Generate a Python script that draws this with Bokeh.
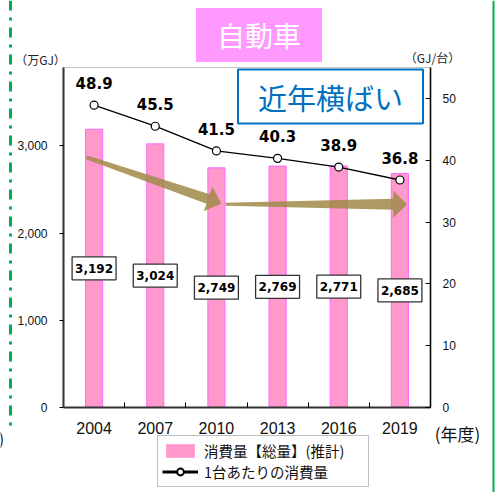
import math
from bokeh.plotting import figure
from bokeh.models import (Range1d, LinearAxis, FixedTicker, NumeralTickFormatter, Label,
                          BoxAnnotation, Arrow, Legend, LegendItem)
from bokeh.embed import file_html
from bokeh.resources import INLINE
from bokeh.core.properties import value

# ---------------- data ----------------
years = ["2004", "2007", "2010", "2013", "2016", "2019"]
total = [3192, 3024, 2749, 2769, 2771, 2685]              # 万GJ
total_labels = ["3,192", "3,024", "2,749", "2,769", "2,771", "2,685"]
per_unit = [48.9, 45.5, 41.5, 40.3, 38.9, 36.8]           # GJ/台
per_unit_labels = ["48.9", "45.5", "41.5", "40.3", "38.9", "36.8"]
left_ticks = [0, 1000, 2000, 3000]
right_ticks = [0, 10, 20, 30, 40, 50]
legend_labels = ["消費量【総量】(推計)", "1台あたりの消費量"]

idx = list(range(len(years)))
half_total = [v / 2 for v in total]

# ---------------- layout ----------------
W, H = 498, 492
# plot area (inside the canvas)
PL, PR, PT, PB = 63, 430, 67, 407
XA0, XA1 = -0.5, len(years) - 0.5     # category axis extent
YA0, YA1 = 0, 3900                    # left axis extent
YB0, YB1 = 0, 55                      # right axis extent

JP = "Noto Sans CJK JP"
NUM = "Liberation Sans"
BOLD = "DejaVu Sans"
BAR_FILL = "#FF99CC"
NAN = float("nan")

SX = (XA1 - XA0) / (PR - PL)          # data per px
SY = (YA1 - YA0) / (PB - PT)
SY2 = (YB1 - YB0) / (PB - PT)


def px2d(px, py):
    return XA0 + (px - PL) * SX, YA0 + (PB - py) * SY


def d2px(x, y):
    return PL + (x - XA0) / SX, PB - (y - YA0) / SY


# the frame spans the whole canvas; axes are pinned to the plot-area edges
x_lo, y_hi = px2d(0, 0)
x_hi, y_lo = px2d(W, H)
y2_lo, y2_hi = YB0 - (H - PB) * SY2, YB0 + PB * SY2


def tapered_arrow(start, end, w_tail, w_body, w_head, head_len):
    (sx, sy), (ex, ey) = d2px(*start), d2px(*end)
    dx, dy = ex - sx, ey - sy
    ln = math.hypot(dx, dy)
    ux, uy = dx / ln, dy / ln
    nx, ny = -uy, ux
    bx, by = ex - ux * head_len, ey - uy * head_len
    pts = [(sx - nx * w_tail / 2, sy - ny * w_tail / 2),
           (bx - nx * w_body / 2, by - ny * w_body / 2),
           (bx - nx * w_head / 2, by - ny * w_head / 2),
           (ex, ey),
           (bx + nx * w_head / 2, by + ny * w_head / 2),
           (bx + nx * w_body / 2, by + ny * w_body / 2),
           (sx + nx * w_tail / 2, sy + ny * w_tail / 2)]
    d = [px2d(a, b) for a, b in pts]
    return [a for a, _ in d], [b for _, b in d]


p = figure(width=W, height=H, x_range=Range1d(x_lo, x_hi), y_range=Range1d(y_lo, y_hi),
           output_backend="svg", toolbar_location=None,
           min_border_left=0, min_border_right=0, min_border_top=0, min_border_bottom=0)
p.extra_y_ranges = {"right": Range1d(y2_lo, y2_hi)}
p.xgrid.visible = False
p.ygrid.visible = False
p.outline_line_color = None
p.background_fill_color = "white"
p.border_fill_color = "white"

# plot-area outline
p.add_layout(BoxAnnotation(left=XA0, right=XA1, bottom=YA0, top=YA1, fill_color=None,
                           line_color="#404040", line_width=1.2, level="underlay"))

# x axis
xa = p.xaxis[0]
xa.fixed_location = YA0
xa.bounds = (XA0, XA1)
xa.ticker = FixedTicker(ticks=idx, minor_ticks=[i + 0.5 for i in idx[:-1]])
xa.major_label_overrides = {i: y for i, y in zip(idx, years)}
xa.major_tick_line_color = None
xa.major_tick_out = 0
xa.major_tick_in = 0
xa.minor_tick_in = 5
xa.minor_tick_out = 0
xa.minor_tick_line_color = "#000000"
xa.axis_line_color = "#333333"
xa.axis_line_width = 2
xa.major_label_text_font = NUM
xa.major_label_text_font_size = "16px"
xa.major_label_text_color = "#111111"
xa.major_label_standoff = 14

# left axis
ya = p.yaxis[0]
ya.fixed_location = XA0
ya.bounds = (YA0, YA1)
ya.ticker = FixedTicker(ticks=left_ticks)
ya.formatter = NumeralTickFormatter(format="0,0")
ya.major_tick_in = 0
ya.major_tick_out = 4
ya.minor_tick_line_color = None
ya.axis_line_color = "#333333"
ya.axis_line_width = 2
ya.major_label_text_font = NUM
ya.major_label_text_font_size = "12px"
ya.major_label_text_color = "#111111"
ya.major_label_standoff = 12

# right axis
ra = LinearAxis(y_range_name="right", ticker=FixedTicker(ticks=right_ticks))
ra.fixed_location = XA1
ra.bounds = (YB0, YB1)
ra.major_tick_in = 5
ra.major_tick_out = 0
ra.minor_tick_line_color = None
ra.axis_line_color = "#000000"
ra.axis_line_width = 1.5
ra.major_label_text_font = NUM
ra.major_label_text_font_size = "12px"
ra.major_label_text_color = "#111111"
ra.major_label_standoff = 12
p.add_layout(ra, "right")

# bars
bars = p.vbar(x=idx, top=total, width=0.28, fill_color=BAR_FILL, line_color="#FF66FF",
              line_width=1)

# trend arrows
ax1, ay1 = tapered_arrow((idx[0] - 0.12, 2870), (idx[2] + 0.08, 2340), 4, 10, 26, 14)
ax2, ay2 = tapered_arrow((idx[2] + 0.15, 2330), (idx[5] + 0.12, 2330), 3, 11, 27, 14)
p.patches(xs=[ax1, ax2], ys=[ay1, ay2], fill_color="#A08A48", fill_alpha=0.85,
          line_color=None)

# bar value boxes
p.text(x=idx, y=half_total, text=total_labels, text_font=value(BOLD),
       text_font_style="bold", text_font_size="12px", text_color="#000000",
       text_align="center", text_baseline="middle",
       background_fill_color="white", border_line_color="#333333", border_line_width=1.3,
       padding=dict(left=3, right=3, top=7, bottom=7))

# per-unit line
line_r = p.line(x=idx, y=per_unit, y_range_name="right", line_color="#000000",
                line_width=1.3)
dot_r = p.scatter(x=idx, y=per_unit, y_range_name="right", size=8, fill_color="white",
                  line_color="#000000", line_width=1.2)
p.text(x=idx, y=per_unit, text=per_unit_labels, y_range_name="right", y_offset=-22,
       text_font=value(BOLD), text_font_style="bold", text_font_size="15px",
       text_color="#000000", text_align="center", text_baseline="middle")


def label_px(text, px, py, size, color, align="center", **kw):
    x, y = px2d(px, py)
    return Label(x=x, y=y, text=text, text_align=align, text_baseline="middle",
                 text_font=JP, text_font_size=size, text_color=color, **kw)


# comment box
p.add_layout(label_px("近年横ばい", 330, 96, "29px", "#0070C0",
                      background_fill_color="white", border_line_color="#0070C0",
                      border_line_width=2,
                      padding=dict(left=20, right=20, top=6, bottom=6)))
# title box
p.add_layout(label_px("自動車", 258.5, 34.5, "28px", "white",
                      background_fill_color="#FF99FF",
                      padding=dict(left=21, right=21, top=7, bottom=7)))
# unit labels
p.add_layout(label_px("（万GJ）", 40, 59, "12px", "#222222"))
p.add_layout(label_px("（GJ/台）", 432, 57, "12px", "#222222"))
p.add_layout(label_px("(年度)", 457, 433, "17px", "#111111"))
p.add_layout(label_px(")", 1, 437, "16px", "#222222"))

# legend swatches (non-drawing proxies styled like the legend keys)
lg_bar = p.vbar(x=[NAN], top=[NAN], width=0.28, fill_color=BAR_FILL, line_color=None)
lg_line = p.line(x=[NAN, NAN], y=[NAN, NAN], line_color="#000000", line_width=3)
lg_dot = p.scatter(x=[NAN], y=[NAN], size=11, fill_color="white", line_color="#000000",
                   line_width=2)
legend = Legend(items=[LegendItem(label=legend_labels[0], renderers=[lg_bar]),
                       LegendItem(label=legend_labels[1], renderers=[lg_line, lg_dot])],
                location=(157, H - 487), orientation="vertical",
                border_line_color="#808080", border_line_width=1.5,
                background_fill_color="white", background_fill_alpha=1.0,
                padding=4, spacing=0, margin=0, glyph_width=36, glyph_height=17,
                label_height=17, label_width=160, label_standoff=6,
                label_text_font=JP, label_text_font_size="14.5px",
                label_text_color="#111111")
p.add_layout(legend)


# page decorations (green guide lines)
def seg_px(x0, y0, x1, y1, **kw):
    a, b = px2d(x0, y0)
    c, d = px2d(x1, y1)
    return Arrow(end=None, x_start=a, y_start=b, x_end=c, y_end=d, **kw)


p.add_layout(seg_px(10, 0, 10, 432, line_color="#00B050", line_width=3,
                    line_dash="10 7 3 7"))
p.add_layout(seg_px(493, 0, 493, H, line_color="#00B050", line_width=2))

open("out.html", "w").write(file_html(p, INLINE))
